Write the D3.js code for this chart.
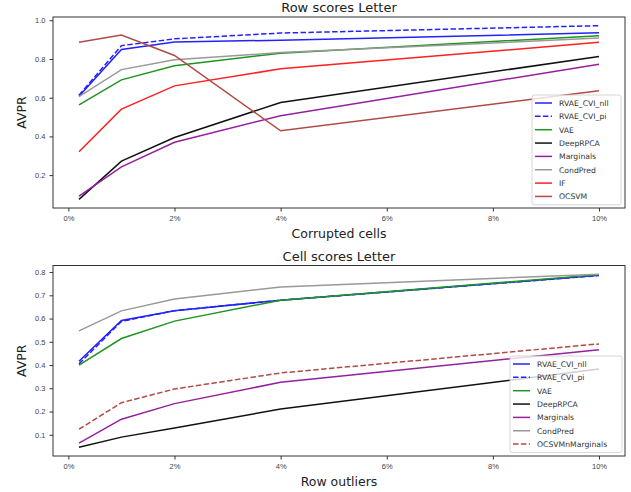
<!DOCTYPE html>
<html>
<head>
<meta charset="utf-8">
<script src="https://cdn.jsdelivr.net/npm/d3@7"></script>
<style>
	body { margin: 0; background: #fff; }
	svg { font-family: 'DejaVu Sans', sans-serif; }
	.tick text { fill: #444; font-size: 7.5px; }
	.tick line { stroke: #333; }
</style>
</head>
<body>
<script>

// x positions (% of corrupted cells / row outliers)
var xVals = [0.2, 1, 2, 4, 10];
var xTicks = [0, 2, 4, 6, 8, 10];

// Row scores Letter
var rowNll       = [0.608, 0.849, 0.888, 0.897, 0.935];
var rowPi        = [0.613, 0.869, 0.904, 0.934, 0.972];
var rowVAE       = [0.563, 0.692, 0.765, 0.830, 0.920];
var rowDeepRPCA  = [0.075, 0.272, 0.394, 0.575, 0.813];
var rowMarginals = [0.092, 0.243, 0.370, 0.507, 0.773];
var rowCondPred  = [0.605, 0.745, 0.796, 0.833, 0.908];
var rowIF        = [0.321, 0.541, 0.661, 0.749, 0.886];
var rowOCSVM     = [0.886, 0.924, 0.818, 0.429, 0.636];
var rowYTicks = [0.2, 0.4, 0.6, 0.8, 1.0];

// Cell scores Letter
var cellNll       = [0.416, 0.592, 0.634, 0.679, 0.786];
var cellPi        = [0.405, 0.588, 0.634, 0.679, 0.785];
var cellVAE       = [0.400, 0.514, 0.589, 0.679, 0.789];
var cellDeepRPCA  = [0.046, 0.090, 0.129, 0.211, 0.383];
var cellMarginals = [0.064, 0.167, 0.234, 0.326, 0.466];
var cellCondPred  = [0.547, 0.633, 0.684, 0.736, 0.791];
var cellOCSVMnM   = [0.124, 0.238, 0.297, 0.366, 0.491];
var cellYTicks = [0.1, 0.2, 0.3, 0.4, 0.5, 0.6, 0.7, 0.8];


var rowSeries = [
	{name: 'RVAE_CVI_nll', values: rowNll, color: '#2222ff', dash: false},
	{name: 'RVAE_CVI_pi', values: rowPi, color: '#2222ff', dash: true},
	{name: 'VAE', values: rowVAE, color: '#1e951e', dash: false},
	{name: 'DeepRPCA', values: rowDeepRPCA, color: '#111111', dash: false},
	{name: 'Marginals', values: rowMarginals, color: '#9420a0', dash: false},
	{name: 'CondPred', values: rowCondPred, color: '#999999', dash: false},
	{name: 'IF', values: rowIF, color: '#ff2020', dash: false},
	{name: 'OCSVM', values: rowOCSVM, color: '#b04a44', dash: false}
];

var cellSeries = [
	{name: 'RVAE_CVI_nll', values: cellNll, color: '#2222ff', dash: false},
	{name: 'RVAE_CVI_pi', values: cellPi, color: '#2222ff', dash: true},
	{name: 'VAE', values: cellVAE, color: '#1e951e', dash: false},
	{name: 'DeepRPCA', values: cellDeepRPCA, color: '#111111', dash: false},
	{name: 'Marginals', values: cellMarginals, color: '#9420a0', dash: false},
	{name: 'CondPred', values: cellCondPred, color: '#999999', dash: false},
	{name: 'OCSVMnMarginals', values: cellOCSVMnM, color: '#b04a44', dash: true}
];


var svg = d3.select('body').append('svg')
	.attr('width', 631)
	.attr('height', 492);


function drawPanel(opt) {

	var width = opt.right - opt.left,
		height = opt.bottom - opt.top;

	var g = svg.append('g')
		.attr('transform', 'translate(' + opt.left + ',' + opt.top + ')');

	// matplotlib-like 5% margins around the data
	var xPad = (d3.max(xVals) - d3.min(xVals)) * 0.05;
	var x = d3.scaleLinear()
		.domain([d3.min(xVals) - xPad, d3.max(xVals) + xPad])
		.range([0, width]);

	var allY = [];
	opt.series.forEach(function(s) { allY = allY.concat(s.values); });
	var yPad = (d3.max(allY) - d3.min(allY)) * 0.05;
	var y = d3.scaleLinear()
		.domain([d3.min(allY) - yPad, d3.max(allY) + yPad])
		.range([height, 0]);

	var line = d3.line()
		.x(function(d, i) { return x(xVals[i]); })
		.y(function(d) { return y(d); });

	g.append('defs').append('clipPath')
		.attr('id', opt.id + '-clip')
		.append('rect')
		.attr('width', width)
		.attr('height', height);

	var lines = g.append('g').attr('clip-path', 'url(#' + opt.id + '-clip)');

	opt.series.forEach(function(s) {
		lines.append('path')
			.datum(s.values)
			.attr('d', line)
			.style('fill', 'none')
			.style('stroke', s.color)
			.style('stroke-width', '1.5px')
			.style('stroke-dasharray', s.dash ? '5.5,2.4' : null);
	});

	// axes
	g.append('g')
		.attr('transform', 'translate(0,' + height + ')')
		.call(d3.axisBottom(x)
			.tickValues(xTicks)
			.tickSize(3.5)
			.tickSizeOuter(0)
			.tickPadding(4)
			.tickFormat(function(d) { return d + '%'; }))
		.call(function(a) { a.select('.domain').remove(); });

	g.append('g')
		.call(d3.axisLeft(y)
			.tickValues(opt.yTicks)
			.tickSize(3.5)
			.tickSizeOuter(0)
			.tickPadding(4)
			.tickFormat(d3.format('.1f')))
		.call(function(a) { a.select('.domain').remove(); });

	g.append('rect')
		.attr('width', width)
		.attr('height', height)
		.style('fill', 'none')
		.style('stroke', '#333')
		.style('stroke-width', '1px');

	// titles
	g.append('text')
		.attr('x', width / 2)
		.attr('y', -5)
		.attr('text-anchor', 'middle')
		.style('font-size', '13px')
		.style('fill', '#222')
		.text(opt.title);

	g.append('text')
		.attr('x', width / 2)
		.attr('y', height + 30)
		.attr('text-anchor', 'middle')
		.style('font-size', '12.5px')
		.style('fill', '#222')
		.text(opt.xlabel);

	g.append('text')
		.attr('transform', 'rotate(-90)')
		.attr('x', -height / 2)
		.attr('y', 26 - opt.left)
		.attr('text-anchor', 'middle')
		.style('font-size', '12.5px')
		.style('fill', '#222')
		.text('AVPR');

	// legend
	var lg = svg.append('g')
		.attr('transform', 'translate(' + opt.legend[0] + ',' + opt.legend[1] + ')');

	lg.append('rect')
		.attr('width', opt.legendW)
		.attr('height', opt.series.length * 13.35 + 3)
		.attr('rx', 2)
		.style('fill', 'white')
		.style('fill-opacity', 0.8)
		.style('stroke', '#ccc')
		.style('stroke-width', '0.8px');

	opt.series.forEach(function(s, i) {
		var ly = 8 + i * 13.35;
		lg.append('line')
			.attr('x1', 3)
			.attr('x2', 20)
			.attr('y1', ly)
			.attr('y2', ly)
			.style('stroke', s.color)
			.style('stroke-width', '1.5px')
			.style('stroke-dasharray', s.dash ? '5.5,2.4' : null);
		lg.append('text')
			.attr('x', 27)
			.attr('y', ly + 2.8)
			.style('font-size', '7.7px')
			.style('fill', '#333')
			.text(s.name);
	});
}


drawPanel({
	id: 'row',
	series: rowSeries,
	yTicks: rowYTicks,
	title: 'Row scores Letter',
	xlabel: 'Corrupted cells',
	left: 53, right: 625, top: 17, bottom: 208,
	legend: [532, 95], legendW: 89
});

drawPanel({
	id: 'cell',
	series: cellSeries,
	yTicks: cellYTicks,
	title: 'Cell scores Letter',
	xlabel: 'Row outliers',
	left: 53, right: 625, top: 265.5, bottom: 456,
	legend: [510, 356], legendW: 112
});

</script>
</body>
</html>
